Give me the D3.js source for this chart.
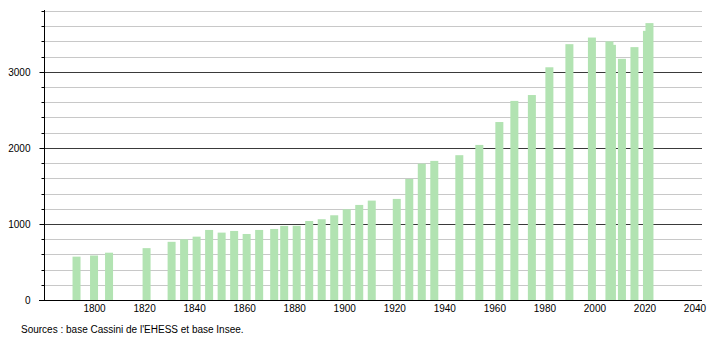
<!DOCTYPE html>
<html>
<head>
<meta charset="utf-8">
<script src="https://cdn.jsdelivr.net/npm/d3@7"></script>
<style>
  body { margin: 0; background: #fff; }
  svg { display: block; font-family: "Liberation Sans", Arial, sans-serif; }
</style>
</head>
<body>
<div id="chart"></div>
<script>
// census years and population
var years = [1793, 1800, 1806, 1821, 1831, 1836, 1841, 1846, 1851, 1856,
  1861, 1866, 1872, 1876, 1881, 1886, 1891, 1896, 1901, 1906,
  1911, 1921, 1926, 1931, 1936, 1946, 1954, 1962, 1968, 1975,
  1982, 1990, 1999, 2006, 2007, 2011, 2016, 2021, 2022];
var population = [570, 585, 622, 682, 765, 798, 833, 921, 886, 908,
  868, 921, 934, 974, 976, 1039, 1062, 1114, 1193, 1250,
  1307, 1329, 1592, 1793, 1829, 1904, 2039, 2340, 2618, 2695,
  3060, 3364, 3451, 3400, 3355, 3171, 3325, 3539, 3641];
var yTicks = [0, 1000, 2000, 3000];
var xTicks = [1800, 1820, 1840, 1860, 1880, 1900, 1920, 1940, 1960, 1980, 2000, 2020, 2040];
var sourceText = "Sources : base Cassini de l'EHESS et base Insee.";

var W = 710, H = 340;
var plotLeft = 44, plotRight = 702, plotBottom = 300, plotTop = 11;
var barW = 8;

var svg = d3.select("#chart").append("svg")
    .attr("width", W)
    .attr("height", H);

var x = d3.scaleLinear().domain([1780, 2043]).range([plotLeft, plotRight]);
var y = d3.scaleLinear().domain([0, 3800]).range([plotBottom, plotTop]);

// grid lines every 200, darker every 1000
var grid = d3.range(200, 3801, 200);
svg.append("g").selectAll("line")
    .data(grid)
    .enter().append("line")
    .attr("x1", plotLeft)
    .attr("x2", plotRight)
    .attr("y1", function (d) { return Math.round(y(d)) + 0.5; })
    .attr("y2", function (d) { return Math.round(y(d)) + 0.5; })
    .attr("stroke", function (d) { return d % 1000 == 0 ? "#3a3a3a" : "#c8c8c8"; })
    .attr("stroke-width", 1);

// bars
svg.append("g").selectAll("rect")
    .data(years)
    .enter().append("rect")
    .attr("x", function (d) { return x(d) - barW / 2; })
    .attr("width", barW)
    .attr("y", function (d, i) { return y(population[i]); })
    .attr("height", function (d, i) { return plotBottom - y(population[i]); })
    .attr("fill", "#b2e3b2");

// y axis
var yAxis = d3.axisLeft(y)
    .tickValues(d3.range(0, 3801, 200))
    .tickSize(3)
    .tickFormat(function (d) { return yTicks.indexOf(d) >= 0 ? d : ""; });
var gy = svg.append("g")
    .attr("transform", "translate(" + (plotLeft + 0.5) + ",0)")
    .call(yAxis);
gy.select(".domain").remove();
gy.append("line")
    .attr("x1", 0).attr("x2", 0)
    .attr("y1", plotTop - 1).attr("y2", plotBottom)
    .attr("stroke", "#000");
gy.selectAll(".tick")
    .attr("transform", function (d) { return "translate(0," + (Math.round(y(d)) + 0.5) + ")"; });
gy.selectAll(".tick line")
    .attr("x2", function (d) { return d % 1000 == 0 ? -5 : -3; })
    .attr("stroke", "#000");
gy.selectAll(".tick text")
    .attr("x", -14)
    .style("font-size", "10px")
    .attr("fill", "#000");

// x axis
var xAxis = d3.axisBottom(x)
    .tickValues(xTicks)
    .tickSize(0)
    .tickFormat(d3.format("d"));
var gx = svg.append("g")
    .attr("transform", "translate(0," + (plotBottom + 0.5) + ")")
    .call(xAxis);
gx.select(".domain").remove();
gx.append("line")
    .attr("x1", plotLeft - 5).attr("x2", plotRight)
    .attr("y1", 0).attr("y2", 0)
    .attr("stroke", "#000");
gx.selectAll(".tick text")
    .attr("y", 4)
    .style("font-size", "10px")
    .attr("fill", "#000");

// source note
svg.append("text")
    .attr("x", 21)
    .attr("y", 333)
    .style("font-size", "10px")
    .attr("fill", "#000")
    .text(sourceText);
</script>
</body>
</html>
